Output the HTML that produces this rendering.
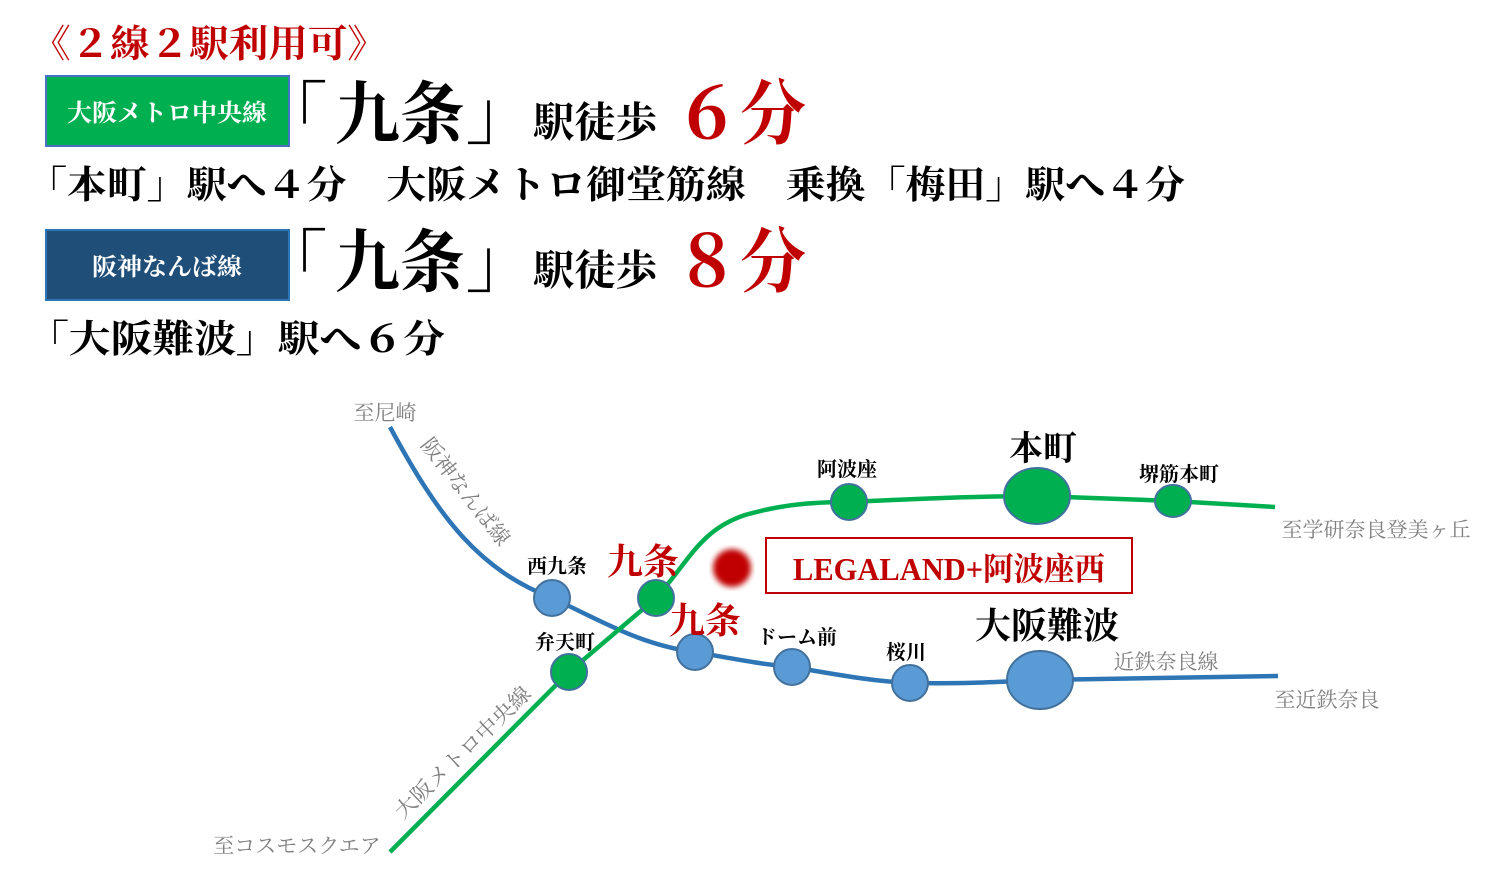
<!DOCTYPE html>
<html><head><meta charset="utf-8"><style>
html,body{margin:0;padding:0;background:#fff;}
svg{display:block}
text{font-family:"Liberation Serif","Noto Serif CJK SC",serif;font-weight:bold}
.g{fill:#7f7f7f;font-weight:normal}
</style></head><body>
<svg width="1500" height="872" viewBox="0 0 1500 872" xmlns="http://www.w3.org/2000/svg">
<defs><filter id="bl"><feGaussianBlur stdDeviation="3"/></filter></defs>
<!-- header -->
<text x="31" y="57" font-size="38" fill="#c00000" textLength="356" lengthAdjust="spacingAndGlyphs">《２線２駅利用可》</text>
<rect x="46" y="76" width="243" height="70" fill="#00b050" stroke="#4472c4" stroke-width="2"/>
<text x="167" y="121" font-size="24" fill="#fff" text-anchor="middle" textLength="200" lengthAdjust="spacingAndGlyphs">大阪メトロ中央線</text>
<text x="259" y="138" font-size="68" fill="#000">「</text>
<text x="335" y="138" font-size="68" fill="#000" textLength="130" lengthAdjust="spacingAndGlyphs">九条</text>
<text x="466" y="138" font-size="68" fill="#000">」</text>
<text x="533" y="137" font-size="42" fill="#000" textLength="124" lengthAdjust="spacingAndGlyphs">駅徒歩</text>
<text x="674" y="138" font-size="70" fill="#c00000" textLength="132" lengthAdjust="spacingAndGlyphs">６分</text>
<text x="27" y="198" font-size="38" fill="#000" textLength="1158" lengthAdjust="spacingAndGlyphs">「本町」駅へ４分　大阪メトロ御堂筋線　乗換「梅田」駅へ４分</text>
<rect x="46" y="230" width="243" height="70" fill="#1f4e79" stroke="#2e75b6" stroke-width="2"/>
<text x="167" y="275" font-size="24" fill="#fff" text-anchor="middle" textLength="150" lengthAdjust="spacingAndGlyphs">阪神なんば線</text>
<text x="259" y="286" font-size="68" fill="#000">「</text>
<text x="335" y="286" font-size="68" fill="#000" textLength="130" lengthAdjust="spacingAndGlyphs">九条</text>
<text x="466" y="286" font-size="68" fill="#000">」</text>
<text x="533" y="285" font-size="42" fill="#000" textLength="124" lengthAdjust="spacingAndGlyphs">駅徒歩</text>
<text x="674" y="286" font-size="70" fill="#c00000" textLength="132" lengthAdjust="spacingAndGlyphs">８分</text>
<text x="27" y="352" font-size="38" fill="#000" textLength="418" lengthAdjust="spacingAndGlyphs">「大阪難波」駅へ６分</text>

<!-- lines -->
<path d="M390,427 C440,520 480,570 552,598 C600,620 640,645 695,652 C740,660 760,664 792,667 C840,675 870,681 910,683 C980,684 1010,681 1040,680 L1278,676" fill="none" stroke="#2e75b6" stroke-width="4.5"/>
<path d="M390,852 L569,672 L656,598 C690,560 700,530 745,515 C780,505 810,502 849,502 C930,498 990,496 1037,496 L1173,501 L1275,507" fill="none" stroke="#00b050" stroke-width="4.5"/>

<g stroke="#41719c" stroke-width="2">
<circle cx="552" cy="598" r="18" fill="#5b9bd5"/>
<circle cx="695" cy="652" r="18" fill="#5b9bd5"/>
<circle cx="792" cy="667" r="18" fill="#5b9bd5"/>
<circle cx="910" cy="683" r="18" fill="#5b9bd5"/>
<ellipse cx="1040" cy="680" rx="33" ry="29" fill="#5b9bd5"/>
<circle cx="656" cy="598" r="18" fill="#00b050"/>
<circle cx="569" cy="672" r="18" fill="#00b050"/>
<circle cx="849" cy="502" r="18" fill="#00b050"/>
<ellipse cx="1037" cy="496" rx="33" ry="28" fill="#00b050"/>
<ellipse cx="1173" cy="501" rx="18" ry="16" fill="#00b050"/>
</g>
<circle cx="732" cy="568" r="19" fill="#c00000" filter="url(#bl)"/>
<rect x="766" y="538" width="366" height="55" fill="#fff" stroke="#c00000" stroke-width="2"/>
<text x="949" y="580" font-size="32" fill="#c00000" text-anchor="middle" textLength="312" lengthAdjust="spacingAndGlyphs">LEGALAND+阿波座西</text>

<!-- labels -->
<text class="g" x="385" y="420" font-size="21" text-anchor="middle">至尼崎</text>
<text class="g" font-size="21" transform="translate(420,445) rotate(52)" textLength="130" lengthAdjust="spacingAndGlyphs">阪神なんば線</text>
<text x="557" y="573" font-size="20" text-anchor="middle">西九条</text>
<text x="643" y="574" font-size="36" fill="#c00000" text-anchor="middle">九条</text>
<text x="705" y="633" font-size="36" fill="#c00000" text-anchor="middle">九条</text>
<text x="797" y="644" font-size="20" text-anchor="middle">ドーム前</text>
<text x="906" y="659" font-size="20" text-anchor="middle">桜川</text>
<text x="1047" y="638" font-size="36" text-anchor="middle">大阪難波</text>
<text class="g" x="1166" y="669" font-size="21" text-anchor="middle">近鉄奈良線</text>
<text class="g" x="1327" y="707" font-size="21" text-anchor="middle">至近鉄奈良</text>
<text x="847" y="476" font-size="20" text-anchor="middle">阿波座</text>
<text x="1043" y="460" font-size="34" text-anchor="middle">本町</text>
<text x="1179" y="481" font-size="20" text-anchor="middle">堺筋本町</text>
<text class="g" x="1376" y="537" font-size="21" text-anchor="middle">至学研奈良登美ヶ丘</text>
<text x="565" y="649" font-size="20" text-anchor="middle">弁天町</text>
<text class="g" font-size="21" transform="translate(403,820) rotate(-44)" textLength="180" lengthAdjust="spacingAndGlyphs">大阪メトロ中央線</text>
<text class="g" x="297" y="853" font-size="21" text-anchor="middle">至コスモスクエア</text>
</svg>
</body></html>
